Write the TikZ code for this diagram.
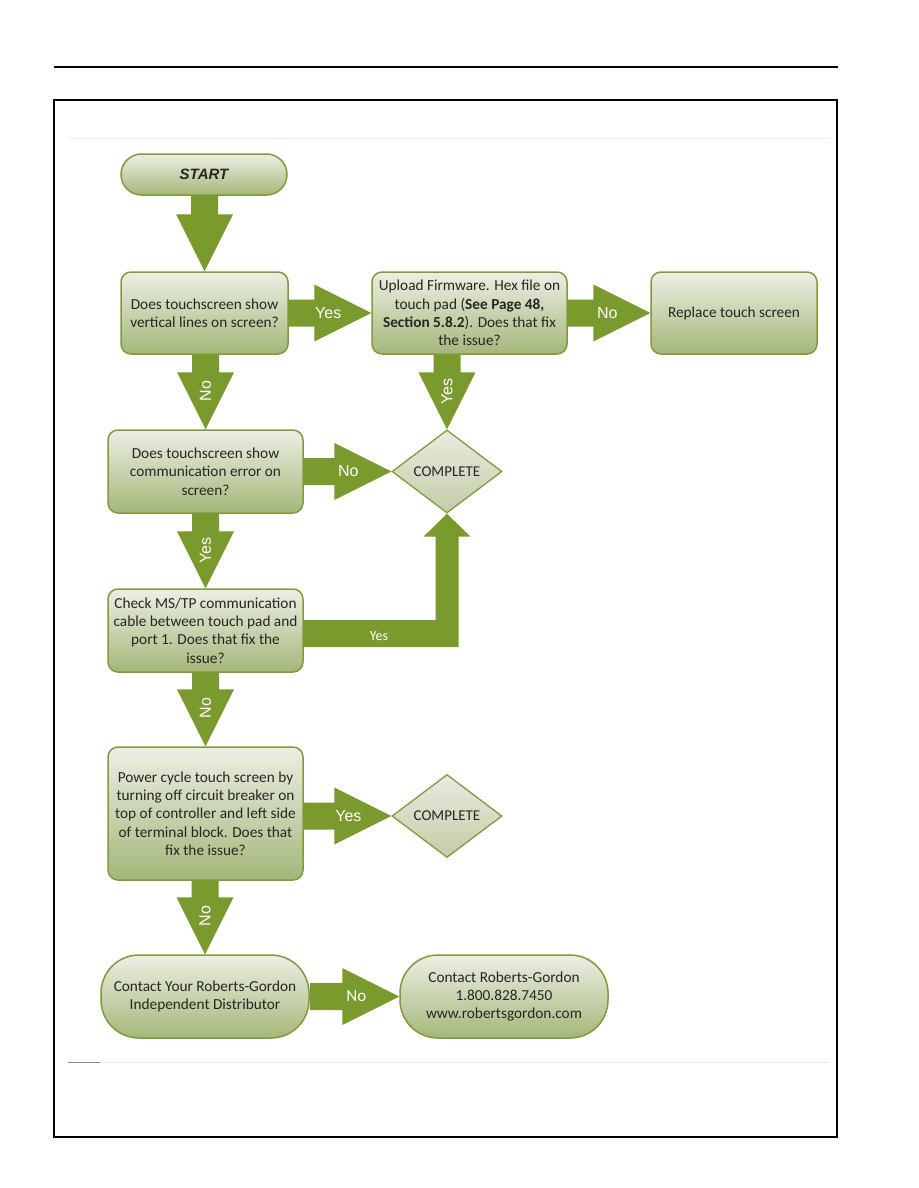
\documentclass[tikz,border=0pt]{standalone}
\usepackage{fontspec}
\setmainfont{Carlito}
\newfontfamily\arialf{Liberation Sans}
\usetikzlibrary{shapes.geometric,calc}
\definecolor{arrowg}{HTML}{7B9A2D}
\definecolor{edgeg}{HTML}{7F9B3E}
\definecolor{boxtop}{HTML}{ECEFE4}
\definecolor{boxbot}{HTML}{A4B779}
\definecolor{dtop}{HTML}{E8EBE0}
\definecolor{dbot}{HTML}{C3CDA6}
\tikzset{
  box/.style={draw=edgeg, line width=1.5pt, rounded corners=10pt, top color=boxtop, bottom color=boxbot,
    align=center, inner sep=2pt, font=\fontsize{15.3}{18.3}\selectfont, text=black!85},
  dec/.style={diamond, draw=edgeg, line width=1.3pt, top color=dtop, bottom color=dbot,
    inner sep=0pt, minimum width=110pt, minimum height=83pt, font=\fontsize{15}{16}\selectfont, text=black!85},
  arr/.style={fill=arrowg},
  albl/.style={text=white, font=\arialf\fontsize{16}{16}\selectfont},
  clbl/.style={text=white, font=\fontsize{14}{14}\selectfont},
}
% vertical block arrow: #1 source, #2 target, #3 label, #4 label name
\newcommand\blkdown[4]{%
  \fill[arr] let \p1=(#1.south), \p2=(#2.north) in
    (\x2-13.5pt,\y1) -- (\x2+13.5pt,\y1) -- (\x2+13.5pt,\y2+57pt) -- (\x2+28.5pt,\y2+57pt)
    -- (\x2,\y2) -- (\x2-28.5pt,\y2+57pt) -- (\x2-13.5pt,\y2+57pt) -- cycle;
  \path let \p2=(#2.north) in node[albl, rotate=90] (#4) at (\x2,\y2+38pt) {#3};
}
% horizontal block arrow
\newcommand\blkright[5]{%
  \fill[arr] let \p1=(#1.east), \p2=(#2.west) in
    (\x1,\y2+13.5pt) -- (\x2-57pt,\y2+13.5pt) -- (\x2-57pt,\y2+28.5pt) -- (\x2,\y2)
    -- (\x2-57pt,\y2-28.5pt) -- (\x2-57pt,\y2-13.5pt) -- (\x1,\y2-13.5pt) -- cycle;
  \path let \p2=(#2.west) in node[#5] (#4) at (\x2-43pt,\y2) {#3};
}
\begin{document}
\begin{tikzpicture}[x=1pt,y=-1pt]
\useasboundingbox (0,0) rectangle (918,1188);
\fill[white] (0,0) rectangle (918,1188);
% page furniture
\draw[line width=1.3pt] (54,67) -- (838,67);
\draw[line width=1.6pt] (54,100) rectangle (837,1137);
\draw[black!6] (68,138) -- (830,138);
\draw[black!8] (68,1062) -- (830,1062);
\draw[black!45] (68,1062) -- (100,1062);

% nodes
\node[box, rounded corners=20.5pt, minimum width=166pt, minimum height=41pt] (start) at (204,174.5)
  {\arialf\bfseries\itshape\fontsize{15}{15}\selectfont START};
\node[box, minimum width=167pt, minimum height=82pt] (q1) at (204.5,313)
  {Does touchscreen show\\vertical lines on screen?};
\node[box, minimum width=195pt, minimum height=82pt] (up) at (469.5,313)
  {Upload Firmware. Hex file on\\touch pad (\textbf{See Page 48,}\\\textbf{Section 5.8.2}). Does that fix\\the issue?};
\node[box, minimum width=166pt, minimum height=82pt] (rep) at (734,313)
  {Replace touch screen};
\node[box, minimum width=195pt, minimum height=83pt] (q2) at (205.5,471.5)
  {Does touchscreen show\\communication error on\\screen?};
\node[dec] (c1) at (447,471.5) {COMPLETE};
\node[box, minimum width=195pt, minimum height=83pt] (q3) at (205.5,630.5)
  {Check MS/TP communication\\cable between touch pad and\\port 1. Does that fix the\\issue?};
\node[box, minimum width=195pt, minimum height=133pt] (q4) at (205.5,813.5)
  {Power cycle touch screen by\\turning off circuit breaker on\\top of controller and left side\\of terminal block. Does that\\fix the issue?};
\node[dec] (c2) at (447,816) {COMPLETE};
\node[box, rounded corners=38pt, minimum width=208pt, minimum height=83pt] (ct1) at (205,996.5)
  {Contact Your Roberts-Gordon\\Independent Distributor};
\node[box, rounded corners=38pt, minimum width=208pt, minimum height=83pt] (ct2) at (504,996.5)
  {Contact Roberts-Gordon\\1.800.828.7450\\www.robertsgordon.com};

% connectors
\blkdown{start}{q1}{}{l0}
\blkdown{q1}{q2}{No}{l1}
\blkdown{up}{c1}{Yes}{l2}
\blkdown{q2}{q3}{Yes}{l3}
\blkdown{q3}{q4}{No}{l4}
\blkdown{q4}{ct1}{No}{l5}
\blkright{q1}{up}{Yes}{l6}{albl}
\blkright{up}{rep}{No}{l7}{albl}
\blkright{q2}{c1}{No}{l8}{albl}
\blkright{q4}{c2}{Yes}{l9}{albl}
\blkright{ct1}{ct2}{No}{l10}{clbl, font=\fontsize{17}{17}\selectfont}
% elbow arrow from q3 to c1
\fill[arr] let \p1=(q3.east), \p2=(c1.south) in
  (\x1,\y1+10.5pt) -- (\x2-11.5pt,\y1+10.5pt) -- (\x2-11.5pt,\y2-23pt) -- (\x2-23.5pt,\y2-23pt)
  -- (\x2,\y2) -- (\x2+23.5pt,\y2-23pt) -- (\x2+11.5pt,\y2-23pt) -- (\x2+11.5pt,\y1-16.5pt)
  -- (\x1,\y1-16.5pt) -- cycle;
\path let \p1=(q3.east), \p2=(c1.south) in node[clbl] (l11) at (379,\y1-6pt) {Yes};
\end{tikzpicture}
\end{document}
